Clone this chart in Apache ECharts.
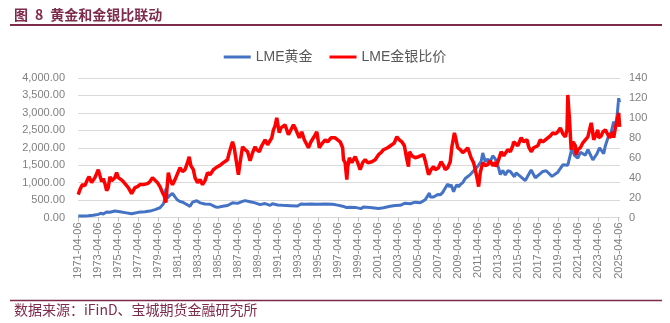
<!DOCTYPE html>
<html><head><meta charset="utf-8">
<script src="https://cdn.jsdelivr.net/npm/echarts@6/dist/echarts.min.js"></script>
<style>html,body{margin:0;padding:0;background:#fff}#c{width:670px;height:323px}</style>
</head><body><div id="c"></div>
<script>
const titleText = '图\u20028\u2002黄金和金银比联动';
const sourceText = '数据来源：iFinD、宝城期货金融研究所';
const seriesNames = ['LME黄金', 'LME金银比价'];

const goldDates = ['1971-04','1971-10','1972-04','1972-10','1973-04','1973-07','1973-10','1974-02','1974-06','1974-12',
'1975-06','1975-12','1976-08','1977-04','1977-12','1978-06','1978-12','1979-06','1979-10','1979-12',
'1980-01','1980-03','1980-06','1980-09','1980-12','1981-03','1981-06','1981-09','1981-12','1982-06',
'1982-09','1983-02','1983-06','1983-12','1984-06','1984-12','1985-03','1985-09','1986-03','1986-09',
'1987-03','1987-09','1987-12','1988-06','1988-12','1989-06','1989-12','1990-06','1990-09','1991-03',
'1991-09','1992-06','1993-03','1993-07','1993-12','1994-06','1995-03','1995-12','1996-02','1996-09',
'1997-03','1997-09','1998-01','1998-06','1998-12','1999-07','1999-10','2000-06','2001-04','2001-10',
'2002-06','2002-12','2003-06','2003-12','2004-06','2004-12','2005-06','2005-12','2006-02','2006-05',
'2006-06','2006-07','2006-10','2006-12','2007-03','2007-06','2007-09','2007-11','2008-03','2008-05',
'2008-07','2008-10','2008-12','2009-02','2009-04','2009-06','2009-09','2009-12','2010-02','2010-06',
'2010-08','2010-12','2011-01','2011-04','2011-07','2011-09','2011-12','2012-03','2012-05','2012-09',
'2012-12','2013-04','2013-06','2013-09','2013-12','2014-03','2014-06','2014-11','2015-01','2015-06',
'2015-12','2016-07','2016-12','2017-06','2017-09','2018-01','2018-08','2019-03','2019-09','2020-03',
'2020-08','2020-11','2021-03','2021-06','2021-12','2022-03','2022-09','2023-02','2023-05','2023-10',
'2023-12','2024-04','2024-07','2024-10','2024-12','2025-02','2025-04','2025-05'];
const goldValues = [40,42,49,64,90,120,100,160,150,185,
166,140,105,148,162,184,226,279,390,512,
830,560,640,690,590,500,460,440,400,320,
440,480,420,385,380,310,290,320,345,420,
405,460,485,450,420,370,400,350,395,360,
350,340,330,390,380,385,380,388,405,380,
355,325,290,295,290,255,300,285,260,280,
320,345,350,410,395,440,425,510,560,700,
590,640,590,630,660,650,720,800,960,880,
940,740,860,940,880,940,1000,1120,1080,1230,
1200,1390,1340,1500,1600,1850,1600,1680,1560,1770,
1680,1420,1230,1350,1220,1340,1320,1170,1280,1180,
1060,1360,1140,1260,1320,1340,1180,1300,1510,1500,
2000,1780,1700,1870,1790,1950,1650,1830,2000,1830,
2060,2350,2450,2750,2620,2900,3420,3300];

const ratioDates = ['1971-04','1971-06','1971-09','1971-12','1972-03','1972-05','1972-08','1972-10','1972-12',
'1973-02','1973-04','1973-06','1973-08','1973-10','1973-12','1974-02','1974-04','1974-06','1974-08','1974-10','1974-12',
'1975-02','1975-04','1975-06','1975-09','1975-11','1976-01','1976-04','1976-08','1976-10','1976-12',
'1977-03','1977-06','1977-10','1977-12','1978-03','1978-06','1978-09','1978-11','1979-03','1979-06','1979-09','1979-11',
'1980-01','1980-04','1980-06','1980-09','1980-12','1981-03','1981-06','1981-09','1981-12',
'1982-03','1982-05','1982-07','1982-10','1982-12','1983-03','1983-06','1983-09','1983-12',
'1984-03','1984-06','1984-10','1984-12','1985-03','1985-07','1985-10','1985-12',
'1986-03','1986-05','1986-09','1986-11','1987-01','1987-04','1987-06','1987-09','1987-12',
'1988-03','1988-06','1988-09','1988-12','1989-02','1989-05','1989-08','1989-12',
'1990-03','1990-05','1990-08','1990-10','1990-12','1991-02','1991-05','1991-07','1991-09','1991-12',
'1992-04','1992-07','1992-10','1992-12','1993-02','1993-05','1993-08','1993-11',
'1994-04','1994-07','1994-10','1994-12','1995-02','1995-05','1995-08','1995-12',
'1996-03','1996-07','1996-12','1997-03','1997-06','1997-09','1997-10','1997-12',
'1998-02','1998-03','1998-05','1998-08','1998-12','1999-03','1999-06','1999-09','1999-12',
'2000-03','2000-08','2000-12','2001-04','2001-07','2001-10','2001-12','2002-03','2002-08','2002-11',
'2003-02','2003-05','2003-08','2003-11','2004-02','2004-04','2004-05','2004-08','2004-12',
'2005-04','2005-07','2005-10','2005-12','2006-04','2006-07','2006-10','2006-12',
'2007-04','2007-07','2007-10','2007-12','2008-03','2008-06','2008-08','2008-11',
'2009-01','2009-03','2009-06','2009-09','2009-12','2010-03','2010-07','2010-10','2010-12',
'2011-03','2011-04','2011-06','2011-09','2011-12','2012-03','2012-06','2012-09','2012-12',
'2013-01','2013-04','2013-07','2013-10','2013-12','2014-03','2014-06','2014-09','2014-10','2014-12',
'2015-03','2015-07','2015-10','2015-12','2016-02','2016-04','2016-07','2016-10','2016-12',
'2017-03','2017-06','2017-09','2017-12','2018-03','2018-06','2018-09','2018-12',
'2019-03','2019-06','2019-09','2019-12','2020-02','2020-03','2020-04','2020-05','2020-07','2020-09','2020-12',
'2021-01','2021-03','2021-06','2021-09','2021-12','2022-03','2022-05','2022-07','2022-08','2022-10','2022-12',
'2023-03','2023-04','2023-07','2023-09','2023-12','2024-01','2024-02','2024-05','2024-07','2024-09','2024-10','2024-12',
'2025-02','2025-04','2025-05'];
const ratioValues = [23,28,33,32,38,41,35,33,40,
44,48,42,36,39,34,27,30,41,37,35,40,
45,40,38,37,35,33,30,24,27,30,
31,33,33,35,34,36,40,38,35,31,25,22,
15,45,38,33,38,44,50,46,48,
55,61,52,48,40,35,38,33,37,
45,43,48,50,51,53,55,56,
58,65,76,70,71,43,55,71,68,
66,57,65,71,68,66,72,78,
73,71,80,88,92,100,85,90,88,93,
83,88,93,90,90,80,86,78,
70,76,80,82,86,70,74,78,
76,80,80,78,76,70,58,55,
38,50,60,55,61,55,48,55,58,
55,56,58,63,65,68,66,70,73,75,
81,78,76,72,58,51,66,62,60,
61,62,63,57,43,48,51,48,
50,56,52,48,50,56,71,85,
78,70,68,65,67,70,60,55,48,
36,31,45,55,52,53,57,52,55,
51,58,66,62,64,68,66,72,76,74,
72,80,76,76,78,71,66,70,71,
72,78,76,78,80,82,85,84,
86,90,84,81,88,123,110,98,68,76,72,
63,68,70,75,78,81,88,95,90,78,76,
88,80,82,86,88,90,88,80,82,86,80,90,
90,105,91];

const xTickLabels = ['1971-04-06','1973-04-06','1975-04-06','1977-04-06','1979-04-06','1981-04-06','1983-04-06',
'1985-04-06','1987-04-06','1989-04-06','1991-04-06','1993-04-06','1995-04-06','1997-04-06','1999-04-06',
'2001-04-06','2003-04-06','2005-04-06','2007-04-06','2009-04-06','2011-04-06','2013-04-06','2015-04-06',
'2017-04-06','2019-04-06','2021-04-06','2023-04-06','2025-04-06'];
const xEnd = '2025-06-01';

function toOffset(s) {
  const p = s.split('-').map(Number);
  const y = p[0], m = p[1], d = p.length > 2 ? p[2] : 15;
  return (y - 1971) + (m - 4) / 12 + (d - 6) / 365;
}
const tickOffsets = xTickLabels.map(toOffset);
function labelFor(v) {
  let best = 0, bd = Infinity;
  tickOffsets.forEach((t, i) => { const dd = Math.abs(t - v); if (dd < bd) { bd = dd; best = i; } });
  return bd < 0.01 ? xTickLabels[best] : '';
}
function fmtMoney(v) {
  const s = v.toFixed(2); const parts = s.split('.');
  return parts[0].replace(/\B(?=(\d{3})+(?!\d))/g, ',') + '.' + parts[1];
}
const goldData = goldDates.map((d, i) => [toOffset(d), goldValues[i]]);
const ratioData = ratioDates.map((d, i) => [toOffset(d), ratioValues[i]]);

const maroon = '#7E2A4B';
const font = '"Liberation Sans", Arial, "Noto Sans CJK SC", sans-serif';
const chart = echarts.init(document.getElementById('c'), null, {renderer: 'canvas'});
chart.setOption({
  animation: false,
  textStyle: {fontFamily: font},
  grid: {left: 78, right: 50, top: 78, bottom: 105.5, containLabel: false},
  legend: {
    top: 45, left: 'center', itemWidth: 27, itemHeight: 3, itemGap: 17, icon: 'rect',
    textStyle: {fontSize: 14, color: '#595959', fontFamily: font},
    data: seriesNames
  },
  xAxis: {
    type: 'value', min: 0, max: toOffset(xEnd),
    axisLine: {lineStyle: {color: '#D9D9D9'}},
    axisTick: {customValues: tickOffsets, length: 4, lineStyle: {color: '#BFBFBF'}},
    axisLabel: {customValues: tickOffsets, formatter: labelFor, rotate: 90, fontSize: 11, color: '#808080', margin: 5},
    splitLine: {show: false}
  },
  yAxis: [{
    type: 'value', min: 0, max: 4000, interval: 500,
    axisLine: {show: false}, axisTick: {show: false},
    axisLabel: {formatter: fmtMoney, fontSize: 11, color: '#808080', margin: 13},
    splitLine: {lineStyle: {color: '#D9D9D9'}}
  }, {
    type: 'value', min: 0, max: 140, interval: 20, position: 'right',
    axisLine: {show: false}, axisTick: {show: false},
    axisLabel: {fontSize: 11, color: '#808080', margin: 9},
    splitLine: {show: false}
  }],
  series: [{
    name: seriesNames[0], type: 'line', yAxisIndex: 0, data: goldData, showSymbol: false,
    lineStyle: {width: 3, color: '#4472C4'}, itemStyle: {color: '#4472C4'}
  }, {
    name: seriesNames[1], type: 'line', yAxisIndex: 1, data: ratioData, showSymbol: false,
    lineStyle: {width: 3.5, color: '#FF0000'}, itemStyle: {color: '#FF0000'}
  }],
  graphic: [
    {type: 'text', left: 14, top: 8, style: {text: titleText, fontSize: 14, fontWeight: 'bold', fill: maroon, fontFamily: '"Noto Sans CJK SC", sans-serif'}},
    {type: 'line', shape: {x1: 10, y1: 25, x2: 662, y2: 25}, style: {stroke: maroon, lineWidth: 2}},
    {type: 'line', shape: {x1: 10, y1: 300.5, x2: 662, y2: 300.5}, style: {stroke: maroon, lineWidth: 1.5}},
    {type: 'text', left: 14, top: 303, style: {text: sourceText, fontSize: 14, fill: maroon, fontFamily: '"Noto Sans CJK SC", sans-serif'}}
  ]
});
</script>
</body></html>
